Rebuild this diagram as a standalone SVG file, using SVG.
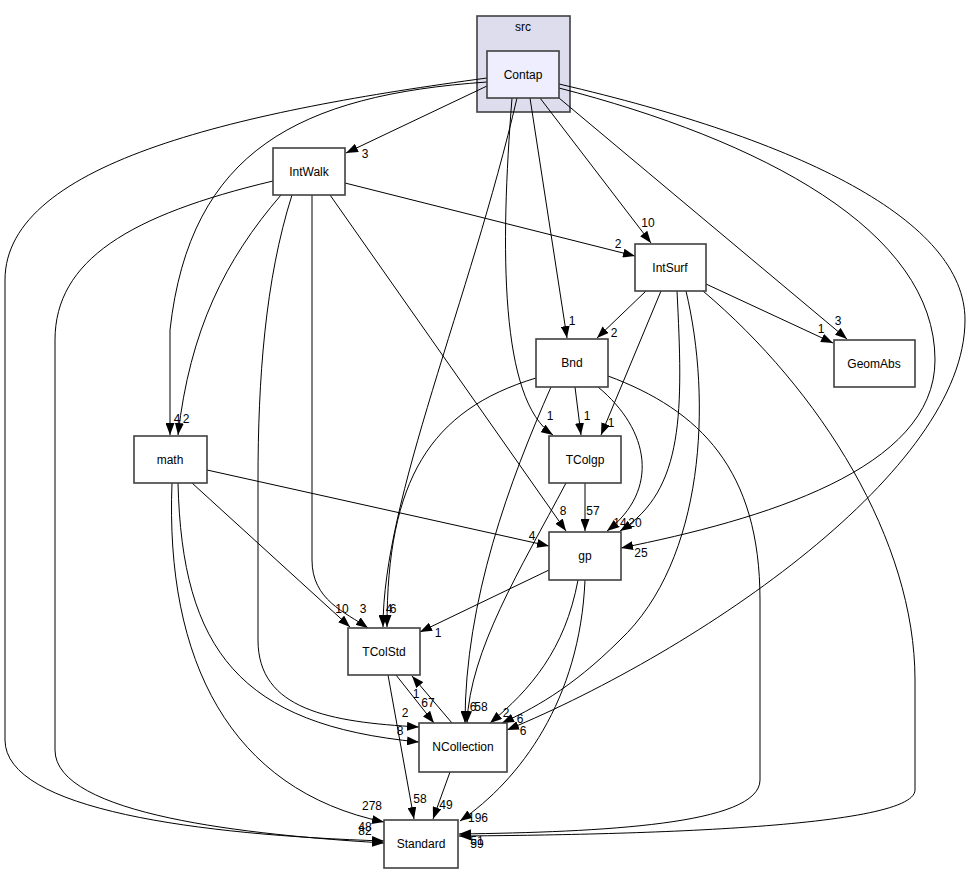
<svg xmlns="http://www.w3.org/2000/svg" width="971" height="873" viewBox="0 0 971 873">
<style>
.n rect{fill:#ffffff;stroke:#404040;stroke-width:1.6}
.t{font-family:"Liberation Sans",Arial,sans-serif;font-size:12px;text-anchor:middle;fill:#000}
.e path{fill:none;stroke:#000;stroke-width:1;marker-end:url(#a)}
.l text{font-family:"Liberation Sans",Arial,sans-serif;font-size:12px;text-anchor:middle;fill:#000}
</style>
<defs>
<marker id="a" markerUnits="userSpaceOnUse" markerWidth="12" markerHeight="9" refX="12" refY="4.5" viewBox="0 0 12 9" orient="auto">
<path d="M0,0 L12,4.5 L0,9 z" fill="#000"/>
</marker>
</defs>
<rect width="971" height="873" fill="#fff"/>
<g id="cluster_src">
<rect x="477" y="16" width="93" height="96" fill="#ddddee" stroke="#404040" stroke-width="1.6"/>
<text class="t" x="523" y="31">src</text>
</g>
<g class="e" id="edges">
<path d="M487,86 L346,153"/>
<path d="M540,98 L651,243"/>
<path d="M530,98 L567,338"/>
<path d="M512,98 C500,250 500,400 553,435"/>
<path d="M517,98 C470,300 383,500 383,627"/>
<path d="M559,98 L847,339"/>
<path d="M559,88 C760,140 935,230 935,360 C935,470 760,520 621,548"/>
<path d="M559,84 C800,140 965,220 965,320 C965,470 700,650 507,730"/>
<path d="M487,78 C250,110 5,160 5,280 L5,740 C5,810 200,835 384,841"/>
<path d="M487,82 C300,95 190,150 170,330 L170,435"/>
<path d="M273,181 C130,215 55,260 55,340 L55,750 C55,815 250,835 384,843"/>
<path d="M281,195 C225,260 190,330 178,435"/>
<path d="M292,195 C265,280 258,380 258,480 L258,640 C258,710 330,722 419,727"/>
<path d="M312,195 L312,560 C312,600 345,612 368,628"/>
<path d="M330,195 L566,531"/>
<path d="M345,183 L635,256"/>
<path d="M646,291 L597,338"/>
<path d="M706,284 L833,343"/>
<path d="M661,291 L601,435"/>
<path d="M677,291 C683,410 685,490 620,531"/>
<path d="M686,291 C712,400 705,560 620,640 C570,690 530,710 502,723"/>
<path d="M703,291 C820,390 915,540 915,680 L915,790 C915,830 600,835 459,836"/>
<path d="M536,378 C430,410 387,480 387,627"/>
<path d="M551,387 C510,480 465,600 465,723"/>
<path d="M575,387 L581,435"/>
<path d="M598,387 C650,430 660,490 607,531"/>
<path d="M608,376 C700,410 760,470 760,600 L760,780 C760,825 600,832 459,834"/>
<path d="M207,470 L549,546"/>
<path d="M192,483 L350,627"/>
<path d="M178,483 C182,650 240,725 419,742"/>
<path d="M172,483 C165,660 230,790 384,822"/>
<path d="M585,483 L585,531"/>
<path d="M566,483 C520,570 470,650 467,723"/>
<path d="M549,570 L420,632"/>
<path d="M578,580 C565,650 530,690 490,723"/>
<path d="M585,580 C580,700 520,780 460,821"/>
<path d="M396,675 L434,723"/>
<path d="M388,675 L414,819"/>
<path d="M452,723 L412,676"/>
<path d="M450,772 L433,819"/>
</g>
<g class="l" id="edge_labels">
<text x="365" y="158">3</text>
<text x="648" y="227">10</text>
<text x="572" y="325">1</text>
<text x="550" y="420">1</text>
<text x="838" y="325">3</text>
<text x="641" y="557">25</text>
<text x="523" y="735">6</text>
<text x="365" y="831">48</text>
<text x="177" y="423">4</text>
<text x="365" y="835">82</text>
<text x="186" y="423">2</text>
<text x="405" y="717">2</text>
<text x="363" y="613">3</text>
<text x="563" y="515">8</text>
<text x="618" y="248">2</text>
<text x="614" y="337">2</text>
<text x="821" y="333">1</text>
<text x="611" y="427">1</text>
<text x="635" y="527">20</text>
<text x="520" y="723">6</text>
<text x="477" y="845">51</text>
<text x="389" y="613">4</text>
<text x="473" y="711">6</text>
<text x="587" y="420">1</text>
<text x="620" y="527">14</text>
<text x="477" y="848">59</text>
<text x="532" y="540">4</text>
<text x="342" y="613">10</text>
<text x="400" y="735">8</text>
<text x="372" y="810">278</text>
<text x="593" y="515">57</text>
<text x="481" y="711">58</text>
<text x="438" y="637">1</text>
<text x="506" y="717">2</text>
<text x="478" y="822">196</text>
<text x="428" y="707">67</text>
<text x="420" y="803">58</text>
<text x="416" y="698">1</text>
<text x="446" y="809">49</text>
<text x="393" y="613">6</text>
</g>
<g id="node_Contap" class="n"><rect x="487" y="51" width="72" height="47" style="fill:#eeeeff"/><text class="t" x="523" y="79">Contap</text></g>
<g id="node_IntWalk" class="n"><rect x="273" y="148" width="72" height="47"/><text class="t" x="309" y="176">IntWalk</text></g>
<g id="node_IntSurf" class="n"><rect x="635" y="244" width="71" height="47"/><text class="t" x="670" y="272">IntSurf</text></g>
<g id="node_GeomAbs" class="n"><rect x="834" y="340" width="81" height="47"/><text class="t" x="874" y="368">GeomAbs</text></g>
<g id="node_Bnd" class="n"><rect x="536" y="339" width="72" height="48"/><text class="t" x="572" y="367">Bnd</text></g>
<g id="node_math" class="n"><rect x="134" y="436" width="73" height="47"/><text class="t" x="170" y="464">math</text></g>
<g id="node_TColgp" class="n"><rect x="549" y="436" width="72" height="47"/><text class="t" x="585" y="464">TColgp</text></g>
<g id="node_gp" class="n"><rect x="549" y="532" width="72" height="48"/><text class="t" x="585" y="560">gp</text></g>
<g id="node_TColStd" class="n"><rect x="348" y="628" width="72" height="47"/><text class="t" x="384" y="656">TColStd</text></g>
<g id="node_NCollection" class="n"><rect x="419" y="723" width="88" height="49"/><text class="t" x="463" y="751">NCollection</text></g>
<g id="node_Standard" class="n"><rect x="384" y="820" width="74" height="48"/><text class="t" x="421" y="848">Standard</text></g>
</svg>
